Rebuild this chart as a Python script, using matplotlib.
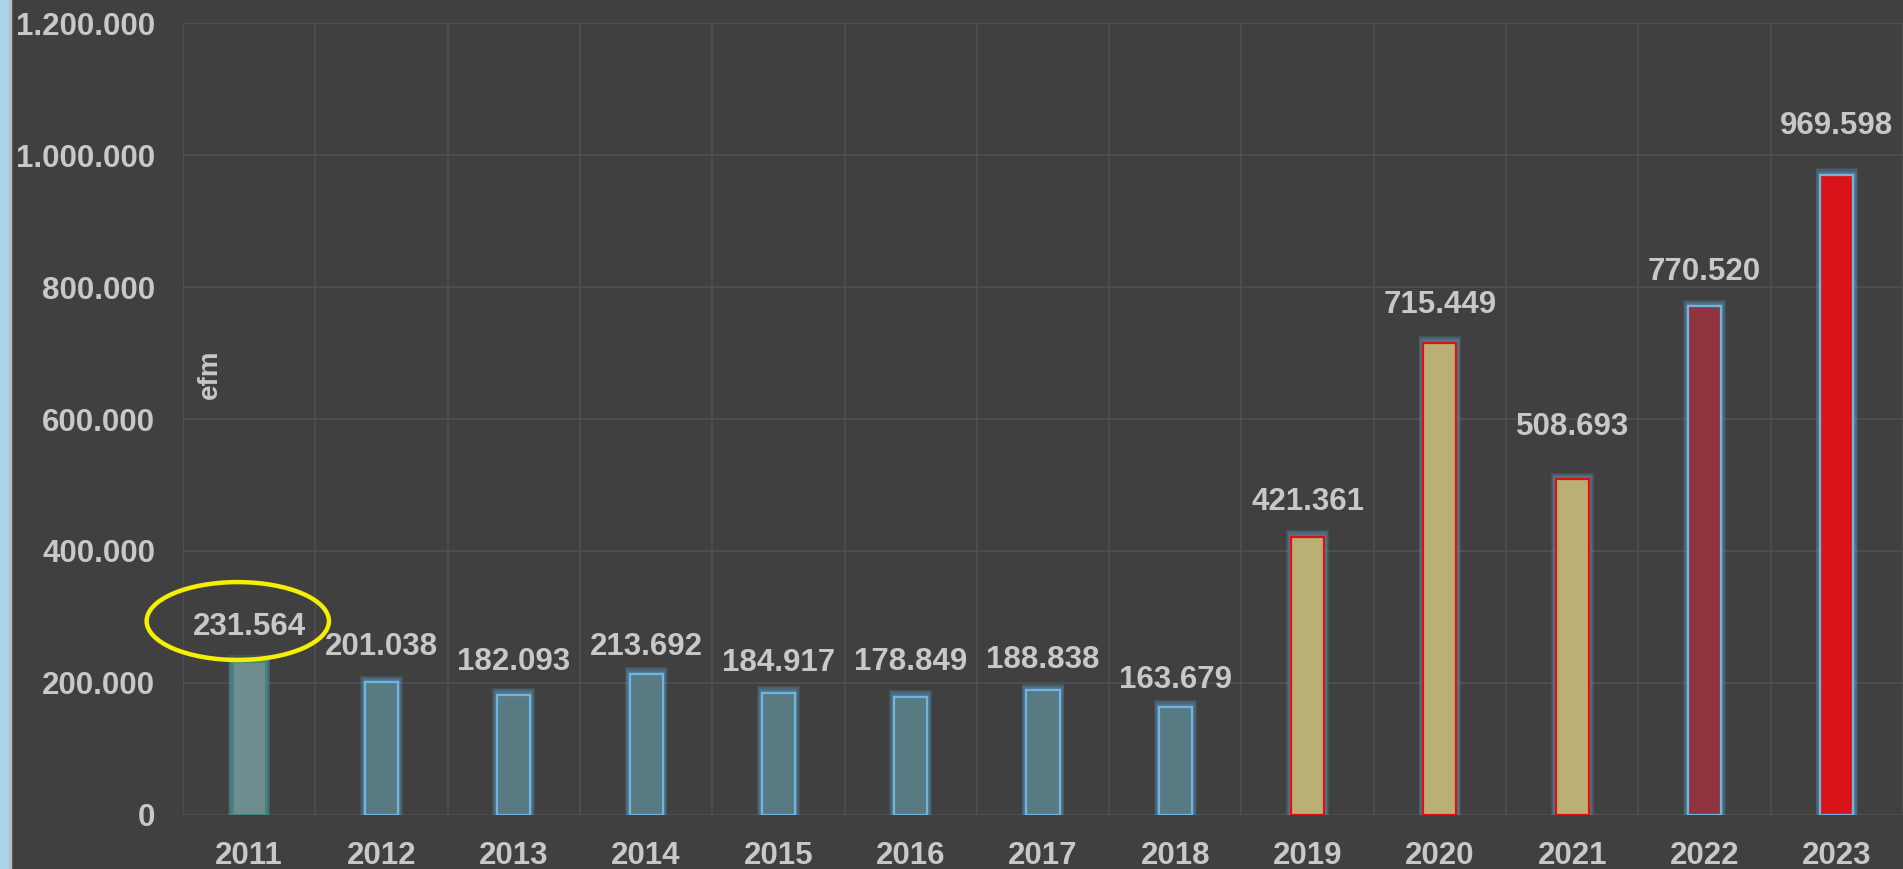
import matplotlib
matplotlib.use('Agg')
import matplotlib.pyplot as plt
from matplotlib.patches import Ellipse, Rectangle
from matplotlib.ticker import FuncFormatter, MultipleLocator
import numpy as np

# data
years = ['2011', '2012', '2013', '2014', '2015', '2016', '2017',
         '2018', '2019', '2020', '2021', '2022', '2023']
values = [231564, 201038, 182093, 213692, 184917, 178849, 188838,
          163679, 421361, 715449, 508693, 770520, 969598]

# bar styling
fills = ['#6f8c90'] + ['#587a82'] * 7 + ['#bbb073'] * 3 + ['#90353d', '#d81418']
edges = ['#3d8c6e'] + ['#72b4e0'] * 7 + ['#e01010'] * 3 + ['#72b4e0', '#72b4e0']
# distance of each value label above its bar (pixels), the original is uneven
label_gap = [35, 35, 33, 27, 30, 35, 30, 27, 35, 38, 52, 34, 49]

bg = '#404040'
txt = '#c8c8c8'

def dotfmt(v):
    return f"{int(v):,}".replace(',', '.')

plt.rcParams['font.family'] = ['Liberation Sans', 'DejaVu Sans']
plt.rcParams['font.weight'] = 'bold'

fig = plt.figure(figsize=(19.03, 8.69), dpi=100)
fig.patch.set_facecolor(bg)
W, H = 1903, 869
ax = fig.add_axes([183 / W, (H - 815) / H, 1720 / W, (815 - 23) / H])
ax.set_facecolor(bg)

# light blue strip on the far left
fig.patches.append(Rectangle((0, 0), 9 / W, 1, transform=fig.transFigure,
                             color='#acd3e8', zorder=0))
fig.patches.append(Rectangle((9 / W, 0), 1.5 / W, 1, transform=fig.transFigure,
                             color='#bdbdbd', zorder=0))

x = np.arange(len(years))
bw = 0.25

# soft glow behind the bars
for k in range(1, 7):
    ax.bar(x, np.array(values) + k * 1700, width=bw + k * 0.012,
           color='#62aee0', alpha=0.14, linewidth=0, zorder=2)

ax.bar(x, values, width=bw, color=fills, edgecolor=edges, linewidth=1.6, zorder=3)

for xi, v, g in zip(x, values, label_gap):
    ax.annotate(dotfmt(v), (xi, v), xytext=(0, g * 0.72), textcoords='offset points',
                ha='center', va='center', fontsize=22.5, color=txt,
                fontweight='bold', zorder=5)

ax.set_xlim(-0.5, 12.45)
ax.set_ylim(0, 1200000)
ax.yaxis.set_major_locator(MultipleLocator(200000))
ax.yaxis.set_major_formatter(FuncFormatter(lambda v, p: dotfmt(v)))
ax.set_xticks(x)
ax.set_xticklabels(years)
ax.set_xticks(np.arange(-0.5, 13, 1), minor=True)

ax.tick_params(axis='both', which='both', length=0, labelsize=22.5, labelcolor=txt)
ax.tick_params(axis='x', pad=19)
ax.tick_params(axis='y', pad=20)
ax.grid(axis='y', which='major', color='#525252', linewidth=1.1, zorder=0)
ax.grid(axis='x', which='minor', color='#525252', linewidth=1.1, zorder=0)
ax.grid(axis='x', which='major', visible=False)
ax.set_axisbelow(True)
for s in ax.spines.values():
    s.set_visible(False)

ax.text(0.0157, 0.556, 'efm', transform=ax.transAxes, rotation=90,
        ha='center', va='center', fontsize=20, color=txt, fontweight='bold')

# yellow highlight around the 2011 value
ax.add_patch(Ellipse((-0.086, 293900), 1.378, 118000, fill=False,
                     edgecolor='#f5f000', linewidth=3.2, zorder=6, clip_on=False))

fig.savefig('out.png', dpi=100, facecolor=bg)
